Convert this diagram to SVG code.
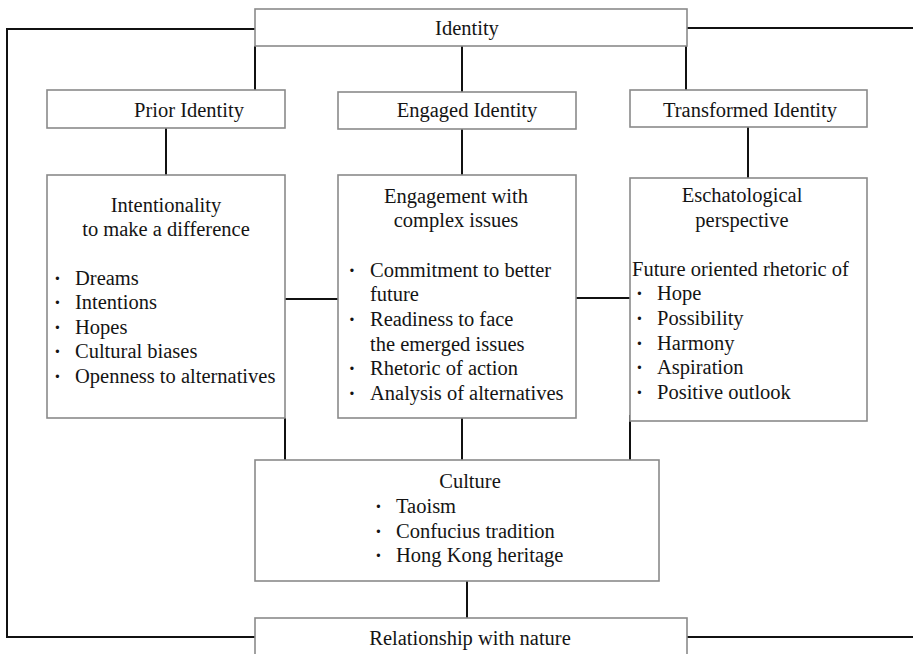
<svg xmlns="http://www.w3.org/2000/svg" width="913" height="654" viewBox="0 0 913 654">
  <style>
    .box { fill: #ffffff; stroke: #8a8a8a; stroke-width: 1.6; }
    .wire { fill: none; stroke: #111111; stroke-width: 2; }
    text { font-family: "Liberation Serif", "Times New Roman", serif; font-size: 20.5px; fill: #141414; }
    .c { text-anchor: middle; }
    .dot { font-weight: bold; }
  </style>
  <rect width="913" height="654" fill="#ffffff"/>

  <!-- connectors -->
  <g id="connectors" class="wire">
    <path d="M255,29 H7 V637 H255"/>
    <path d="M687,28 H913"/>
    <path d="M687,637 H913"/>
    <path d="M255,46 V90"/>
    <path d="M462,46 V92"/>
    <path d="M686,46 V90"/>
    <path d="M166,128 V175"/>
    <path d="M462,129 V175"/>
    <path d="M748,127 V178"/>
    <path d="M285,299 H338"/>
    <path d="M576,298 H630"/>
    <path d="M285,418 V460"/>
    <path d="M462,418 V460"/>
    <path d="M630,415 V460"/>
    <path d="M467,581 V618"/>
  </g>

  <g id="identity">
    <rect class="box" x="255" y="9" width="432" height="37"/>
    <text class="c" x="467" y="35">Identity</text>
  </g>

  <g id="prior-identity">
    <rect class="box" x="47" y="90" width="238" height="38"/>
    <text class="c" x="189" y="117">Prior Identity</text>
  </g>

  <g id="engaged-identity">
    <rect class="box" x="338" y="92" width="238" height="37"/>
    <text class="c" x="467" y="117">Engaged Identity</text>
  </g>

  <g id="transformed-identity">
    <rect class="box" x="630" y="90" width="237" height="37"/>
    <text class="c" x="750" y="117">Transformed Identity</text>
  </g>

  <g id="intentionality">
    <rect class="box" x="47" y="175" width="238" height="243"/>
    <text class="c" x="166" y="212">Intentionality</text>
    <text class="c" x="166" y="236">to make a difference</text>
    <g class="dot">
      <text x="54" y="285">·</text>
      <text x="54" y="309">·</text>
      <text x="54" y="333.5">·</text>
      <text x="54" y="358">·</text>
      <text x="54" y="382.5">·</text>
    </g>
    <text x="75" y="285">Dreams</text>
    <text x="75" y="309">Intentions</text>
    <text x="75" y="333.5">Hopes</text>
    <text x="75" y="358">Cultural biases</text>
    <text x="75" y="382.5">Openness to alternatives</text>
  </g>

  <g id="engagement">
    <rect class="box" x="338" y="175" width="238" height="243"/>
    <text class="c" x="456" y="203">Engagement with</text>
    <text class="c" x="456" y="227">complex issues</text>
    <g class="dot">
      <text x="348.5" y="277">·</text>
      <text x="348.5" y="326">·</text>
      <text x="348.5" y="375">·</text>
      <text x="348.5" y="400">·</text>
    </g>
    <text x="370" y="277">Commitment to better</text>
    <text x="370" y="301">future</text>
    <text x="370" y="326">Readiness to face</text>
    <text x="370" y="350.5">the emerged issues</text>
    <text x="370" y="375">Rhetoric of action</text>
    <text x="370" y="400">Analysis of alternatives</text>
  </g>

  <g id="eschatological">
    <rect class="box" x="630" y="178" width="237" height="243"/>
    <text class="c" x="742" y="202">Eschatological</text>
    <text class="c" x="742" y="227">perspective</text>
    <text x="632" y="276">Future oriented rhetoric of</text>
    <g class="dot">
      <text x="636" y="300">·</text>
      <text x="636" y="325">·</text>
      <text x="636" y="350">·</text>
      <text x="636" y="374">·</text>
      <text x="636" y="399">·</text>
    </g>
    <text x="657" y="300">Hope</text>
    <text x="657" y="325">Possibility</text>
    <text x="657" y="350">Harmony</text>
    <text x="657" y="374">Aspiration</text>
    <text x="657" y="399">Positive outlook</text>
  </g>

  <g id="culture">
    <rect class="box" x="255" y="460" width="404" height="121"/>
    <text class="c" x="470" y="488">Culture</text>
    <g class="dot">
      <text x="375" y="513">·</text>
      <text x="375" y="538">·</text>
      <text x="375" y="562">·</text>
    </g>
    <text x="396" y="513">Taoism</text>
    <text x="396" y="538">Confucius tradition</text>
    <text x="396" y="562">Hong Kong heritage</text>
  </g>

  <g id="nature">
    <rect class="box" x="255" y="618" width="432" height="50"/>
    <text class="c" x="470" y="644.5">Relationship with nature</text>
  </g>
</svg>
